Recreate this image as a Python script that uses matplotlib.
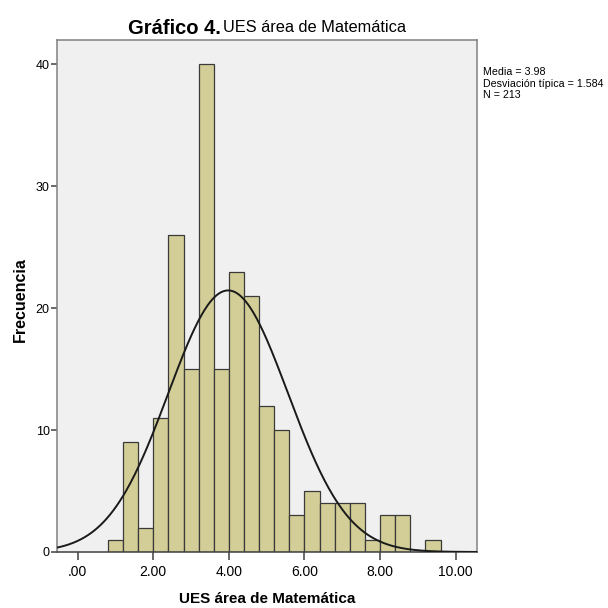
import numpy as np
import matplotlib
matplotlib.use("Agg")
import matplotlib.pyplot as plt

# ── Data ──────────────────────────────────────────────────────────────────
BIN_EDGES = [0.8, 1.2, 1.6, 2.0, 2.4, 2.8, 3.2, 3.6, 4.0, 4.4, 4.8, 5.2,
             5.6, 6.0, 6.4, 6.8, 7.2, 7.6, 8.0, 8.4, 8.8, 9.2, 9.6]
COUNTS = [1, 9, 2, 11, 26, 15, 40, 15, 23, 21, 12, 10,
          3, 5, 4, 4, 4, 1, 3, 3, 0, 1]
MEAN = 3.98
STD = 1.584
N = 213

X_TICKS = [0, 2, 4, 6, 8, 10]
X_TICK_LABELS = [".00", "2.00", "4.00", "6.00", "8.00", "10.00"]
Y_TICKS = [0, 10, 20, 30, 40]

BAR_COLOR = "#d3ce97"
FRAME_COLOR = "#808080"
FONT = ["Liberation Sans", "DejaVu Sans"]

fig = plt.figure(figsize=(6.08, 6.08), dpi=100)
W = H = 608.0
ax = fig.add_axes([56.7 / W, 1 - 552 / H, (476.7 - 56.7) / W, (552 - 40) / H])
ax.set_facecolor("#f0f0f0")

widths = np.diff(BIN_EDGES)
ax.bar(BIN_EDGES[:-1], COUNTS, width=widths, align="edge",
       color=BAR_COLOR, edgecolor="#3a3a3a", linewidth=0.9, zorder=2)

# normal curve scaled to counts
xs = np.linspace(-0.6, 10.6, 400)
bw = widths[0]
ys = N * bw / (STD * np.sqrt(2 * np.pi)) * np.exp(-0.5 * ((xs - MEAN) / STD) ** 2)
ax.plot(xs, ys, color="#1a1a1a", lw=1.4, zorder=3)

ax.set_xlim(-0.556, 10.556)
ax.set_ylim(0, 42.0)
ax.set_xticks(X_TICKS)
ax.set_xticklabels(X_TICK_LABELS, family=FONT, fontsize=10)
ax.set_yticks(Y_TICKS)
ax.set_yticklabels([str(v) for v in Y_TICKS], family=FONT, fontsize=9)
ax.tick_params(axis="x", length=6, width=1.1, color="#404040", pad=3)
ax.tick_params(axis="y", length=4, width=1.1, color="#404040", pad=1)
for s in ax.spines.values():
    s.set_color(FRAME_COLOR)
    s.set_linewidth(1.1)
ax.spines["bottom"].set_color("#404040")

# axis labels placed in figure pixels
fig.text(267 / W, 1 - 603 / H, "UES área de Matemática", family=FONT,
         fontsize=11, fontweight="bold", ha="center", va="baseline")
fig.text(20 / W, 1 - 300 / H, "Frecuencia", family=FONT, fontsize=11.5,
         fontweight="bold", rotation=90, ha="center", va="center")

# title in two parts
fig.text(221 / W, 1 - 34 / H, "Gráfico 4.", family=FONT, fontsize=14.5,
         fontweight="bold", ha="right", va="baseline")
fig.text(223 / W, 1 - 32.5 / H, "UES área de Matemática", family=FONT,
         fontsize=11.8, ha="left", va="baseline")

stats = f"Media = {MEAN:.2f}\nDesviación típica = {STD:.3f}\nN = {N}"
fig.text(483 / W, 1 - 67 / H, stats, family=FONT, fontsize=7.7,
         ha="left", va="top", linespacing=1.2)

fig.savefig("out.png", dpi=100, facecolor="white")
